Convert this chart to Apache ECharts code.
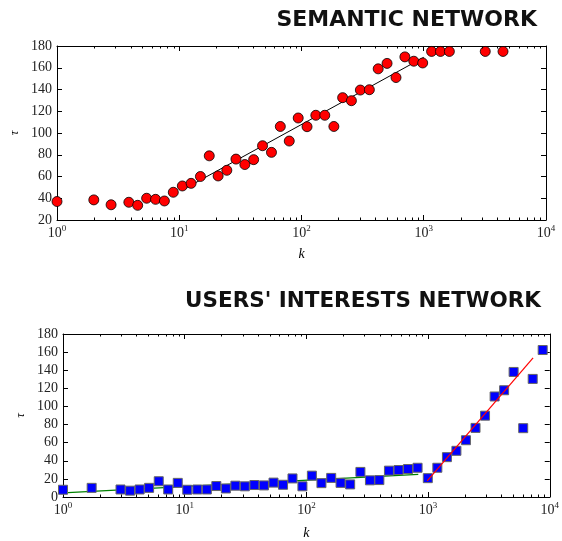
<!DOCTYPE html>
<html>
<head>
<meta charset="utf-8">
<script src="https://cdn.jsdelivr.net/npm/echarts@6/dist/echarts.min.js"></script>
<style>
  html, body { margin: 0; padding: 0; background: #fff; }
  #chart { width: 562px; height: 541px; }
</style>
</head>
<body>
<div id="chart"></div>
<script>
// semantic network: degree k vs tau
var semK = [1, 2, 2.77, 3.87, 4.57, 5.41, 6.4, 7.56, 8.94,
  10.6, 12.5, 14.9, 17.6, 20.8, 24.5, 29.1, 34.4, 40.6, 48,
  56.8, 67.1, 79.4, 94, 111, 131, 155, 184, 217, 256,
  303, 359, 424, 501, 593, 701, 829, 980,
  1159, 1370, 1620, 3185, 4450];
var semTau = [37, 38.5, 34, 36.3, 33.5, 40, 39, 37.5, 45.5,
  51.3, 53.7, 60, 79, 60.5, 65.7, 76, 71, 75.5, 88.3,
  82.2, 106, 92.6, 113.8, 105.8, 116.3, 116.3, 106, 132.5, 129.7,
  139.5, 139.8, 159, 164, 151, 170, 166, 164.4,
  175, 175, 175, 175, 175];
var semFitK = [10.6, 1000];
var semFitTau = [47.6, 169.6];

// users' interests network
var usrK = [1, 1.72, 2.97, 3.56, 4.26, 5.1, 6.12, 7.32, 8.77,
  10.5, 12.7, 15.2, 18.2, 21.8, 26.1, 31.2, 37.4, 44.8, 53.7,
  64.3, 76.9, 92.8, 111, 133, 160, 191, 229, 278, 333,
  398, 477, 572, 684, 820, 995, 1192, 1429, 1710, 2048,
  2455, 2939, 3523, 4217, 5047, 6053, 7244, 8750];
var usrTau = [8, 10.1, 8.3, 7, 8.3, 10.1, 17.4, 8.3, 15.6,
  8, 8.3, 8.3, 12.1, 9.4, 12.5, 11.8, 13.2, 12.8, 15.9,
  13.5, 20.5, 11.8, 23.6, 15.3, 21.1, 15.6, 13.9, 27.7, 18.4,
  18.7, 29.1, 29.8, 30.9, 32.3, 20.8, 32.3, 44, 51, 62.7,
  76.3, 89.8, 111, 117.9, 138.1, 76, 130.4, 162.3];
var usrLowK = [1, 831];
var usrLowTau = [4.5, 25];
var usrHighK = [984, 7295];
var usrHighTau = [17.7, 153.7];

var titles = ['SEMANTIC NETWORK', "USERS' INTERESTS NETWORK"];
// log minor tick positions (2..9 in each decade)
var minorK = [2, 3, 4, 5, 6, 7, 8, 9, 20, 30, 40, 50, 60, 70, 80, 90,
  200, 300, 400, 500, 600, 700, 800, 900, 2000, 3000, 4000, 5000, 6000, 7000, 8000, 9000];

function pairs(xs, ys) {
  return xs.map(function (x, i) { return [x, ys[i]]; });
}

var serif = '"Liberation Serif", "DejaVu Serif", serif';

function logLabel(v) {
  var e = Math.round(Math.log10(v));
  return '{b|10}{s|' + e + '}';
}

function xAx(grid, pos) {
  var bottom = pos === 'bottom';
  return {
    type: 'log', logBase: 10, gridIndex: grid, position: pos,
    min: 1, max: 10000,
    name: bottom ? 'k' : '',
    nameLocation: 'middle', nameGap: grid === 0 ? 27 : 29, nameMoveOverlap: false,
    nameTextStyle: { fontFamily: serif, fontStyle: 'italic', fontSize: 14, color: '#000' },
    axisLine: { show: true, onZero: false, lineStyle: { color: '#000', width: 1 } },
    axisTick: { show: true, inside: true, length: 5, lineStyle: { color: '#000' } },
    splitLine: { show: false },
    axisLabel: {
      show: bottom, margin: 4, formatter: logLabel,
      rich: {
        b: { fontFamily: serif, fontSize: 14, color: '#222' },
        s: { fontFamily: serif, fontSize: 9, color: '#222', padding: [0, 0, 9, 0] }
      }
    }
  };
}

function yAx(grid, pos, min) {
  var left = pos === 'left';
  return {
    type: 'value', gridIndex: grid, position: pos,
    min: min, max: 180, interval: 20,
    name: left ? 'τ' : '',
    nameLocation: 'middle', nameRotate: 90, nameGap: 36, nameMoveOverlap: false,
    nameTextStyle: { fontFamily: serif, fontStyle: 'italic', fontSize: 13, color: '#000' },
    axisLine: { show: true, onZero: false, lineStyle: { color: '#000', width: 1 } },
    axisTick: { show: true, inside: true, length: 5, lineStyle: { color: '#000' } },
    splitLine: { show: false },
    axisLabel: { show: left, margin: 5, fontFamily: serif, fontSize: 14, color: '#222' }
  };
}

// short inside ticks at bottom and top of a log axis, placed by the axis scale
function minorTicks(xi, yi, yMin, yMax) {
  return {
    type: 'custom', xAxisIndex: xi, yAxisIndex: yi, silent: true, clip: false, z: 6,
    data: minorK.map(function (v) { return [v]; }),
    renderItem: function (params, api) {
      var b = api.coord([api.value(0), yMin]);
      var t = api.coord([api.value(0), yMax]);
      var x = Math.round(b[0]) + 0.5;
      var st = { stroke: '#000', lineWidth: 1 };
      return {
        type: 'group',
        children: [
          { type: 'line', shape: { x1: x, y1: b[1], x2: x, y2: b[1] - 2.5 }, style: st },
          { type: 'line', shape: { x1: x, y1: t[1], x2: x, y2: t[1] + 2.5 }, style: st }
        ]
      };
    }
  };
}

var chart = echarts.init(document.getElementById('chart'));
var titleFont = { fontFamily: '"DejaVu Sans", sans-serif', fontWeight: 'bold', fontSize: 22, color: '#111' };
var titleFont2 = { fontFamily: '"DejaVu Sans", sans-serif', fontWeight: 'bold', fontSize: 21.5, color: '#111' };
var option = {
  backgroundColor: '#fff',
  animation: false,
  title: [
    { text: titles[0], right: 20, top: 4, textStyle: titleFont },
    { text: titles[1], right: 16, top: 285, textStyle: titleFont2 }
  ],
  grid: [
    { left: 51, top: 46, width: 495, height: 174 },
    { left: 63, top: 334, width: 494, height: 173 }
  ],
  xAxis: [xAx(0, 'bottom'), xAx(0, 'top'), xAx(1, 'bottom'), xAx(1, 'top')],
  yAxis: [yAx(0, 'left', 20), yAx(0, 'right', 20), yAx(1, 'left', 0), yAx(1, 'right', 0)],
  series: [
    minorTicks(0, 0, 20, 180),
    minorTicks(2, 2, 0, 180),
    {
      type: 'line', xAxisIndex: 0, yAxisIndex: 0, data: pairs(semFitK, semFitTau),
      showSymbol: false, lineStyle: { color: '#000', width: 1 }, z: 3
    },
    {
      type: 'scatter', xAxisIndex: 0, yAxisIndex: 0, data: pairs(semK, semTau),
      symbol: 'circle', symbolSize: 10,
      itemStyle: { color: '#ff0000', borderColor: '#000', borderWidth: 0.8, opacity: 1 }, z: 4
    },
    {
      type: 'line', xAxisIndex: 2, yAxisIndex: 2, data: pairs(usrLowK, usrLowTau),
      showSymbol: false, lineStyle: { color: '#008000', width: 1.2 }, z: 3
    },
    {
      type: 'line', xAxisIndex: 2, yAxisIndex: 2, data: pairs(usrHighK, usrHighTau),
      showSymbol: false, lineStyle: { color: '#ff0000', width: 1.2 }, z: 5
    },
    {
      type: 'scatter', xAxisIndex: 2, yAxisIndex: 2, data: pairs(usrK, usrTau),
      symbol: 'rect', symbolSize: 9,
      itemStyle: { color: '#0000ff', borderColor: '#666', borderWidth: 1, opacity: 1 }, z: 4
    }
  ]
};
chart.setOption(option);
</script>
</body>
</html>
